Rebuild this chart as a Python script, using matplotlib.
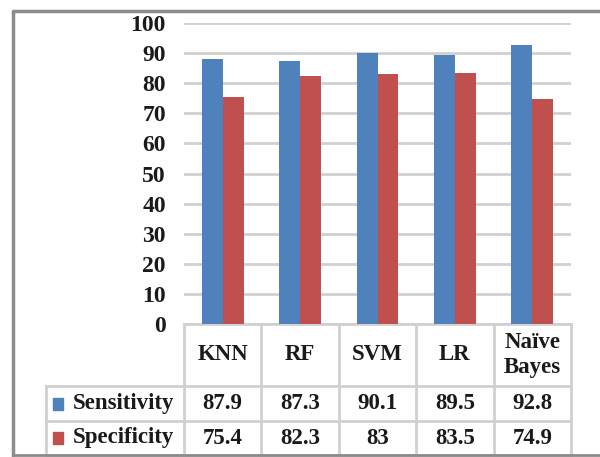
import matplotlib.pyplot as plt
import numpy as np
from matplotlib.lines import Line2D
from matplotlib.patches import Rectangle
from matplotlib.transforms import blended_transform_factory

models = ["KNN", "RF", "SVM", "LR", "Naïve\nBayes"]
sensitivity = [87.9, 87.3, 90.1, 89.5, 92.8]
specificity = [75.4, 82.3, 83, 83.5, 74.9]
series_names = ["Sensitivity", "Specificity"]
colors = ["#4F81BD", "#C0504D"]
yticks = [0, 10, 20, 30, 40, 50, 60, 70, 80, 90, 100]

plt.rcParams["font.family"] = ["Liberation Serif", "DejaVu Serif"]
plt.rcParams["font.weight"] = "bold"
plt.rcParams["text.color"] = "#1a1a1a"
plt.rcParams["ytick.color"] = "#1a1a1a"

fig = plt.figure(figsize=(6, 4.57), dpi=100)
ax = fig.add_axes([184 / 600, 1 - 324 / 457, 387 / 600, 301 / 457])

x = np.arange(len(models))
w = 0.27
ax.bar(x - w / 2, sensitivity, w, color=colors[0], zorder=3)
ax.bar(x + w / 2, specificity, w, color=colors[1], zorder=3)

ax.set_xlim(-0.5, len(models) - 0.5)
ax.set_ylim(0, 100)
ax.set_yticks(yticks)
ax.set_yticklabels([str(t) for t in yticks], fontsize=17, fontweight="bold")
ax.tick_params(axis="y", length=0, pad=13)
ax.set_xticks([])
for s in ax.spines.values():
    s.set_visible(False)
ax.grid(axis="y", color="#d0d0d0", linewidth=2, zorder=0)

# data table under the plot
grid_c = "#d0d0d0"
trans = blended_transform_factory(ax.transData, ax.transAxes)
px = 1 / 301  # one pixel in axes-height units
y_top = 0
y_head = -62 * px
y_r1 = -97 * px
y_r2 = -131 * px
label_left = -0.5 - 138 / 77.4

def hline(x0, x1, y):
    ax.add_line(Line2D([x0, x1], [y, y], transform=trans, color=grid_c,
                       lw=2, clip_on=False))

def vline(xv, y0, y1):
    ax.add_line(Line2D([xv, xv], [y0, y1], transform=trans, color=grid_c,
                       lw=2, clip_on=False))

n = len(models)
hline(-0.5, n - 0.5, y_top)
hline(label_left, n - 0.5, y_head)
hline(label_left, n - 0.5, y_r1)
hline(label_left, n - 0.5, y_r2)
for i in range(n + 1):
    vline(i - 0.5, y_top, y_r2)
vline(label_left, y_head, y_r2)

for i, m in enumerate(models):
    ax.text(i, (y_top + y_head) / 2, m, transform=trans, ha="center",
            va="center", fontsize=16.5, fontweight="bold", linespacing=1.25)

rows = [sensitivity, specificity]
row_y = [(y_head + y_r1) / 2, (y_r1 + y_r2) / 2]
for vals, name, c, yy in zip(rows, series_names, colors, row_y):
    ax.add_patch(Rectangle((label_left + 0.09, yy - 6 * px), 0.13, 12 * px,
                           transform=trans, color=c, clip_on=False))
    ax.text(label_left + 0.34, yy, name, transform=trans, ha="left",
            va="center", fontsize=16.5, fontweight="bold")
    for i, v in enumerate(vals):
        ax.text(i, yy, f"{v:g}", transform=trans, ha="center", va="center",
                fontsize=16.5, fontweight="bold")

# chart frame
fig.add_artist(Line2D([13 / 600, 13 / 600, 1.0], [1 - 455 / 457, 1 - 11 / 457, 1 - 11 / 457],
                      transform=fig.transFigure, color="#8c8c8c", lw=2.5))
fig.add_artist(Line2D([13 / 600, 1.0], [1 - 455 / 457, 1 - 455 / 457],
                      transform=fig.transFigure, color="#8c8c8c", lw=2))

fig.savefig("out.png", dpi=100)
